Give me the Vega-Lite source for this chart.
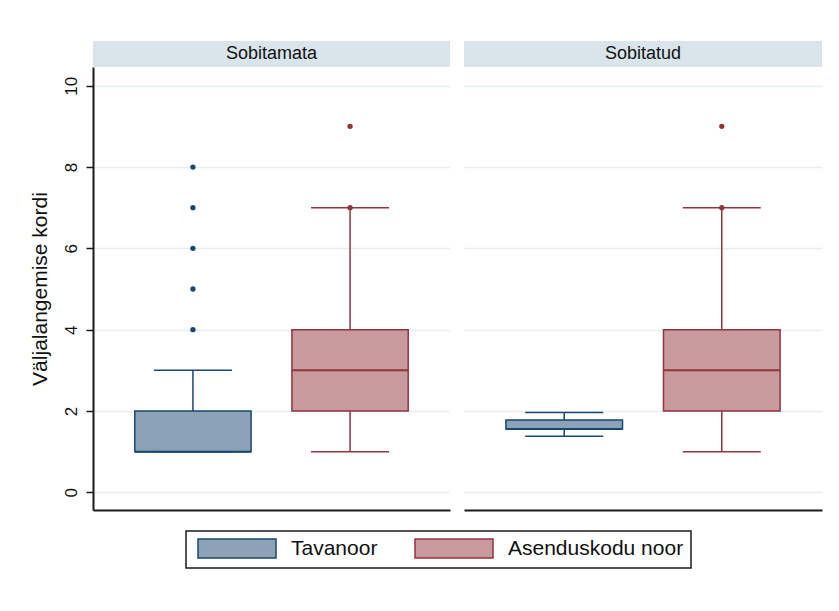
{
  "$schema": "https://vega.github.io/schema/vega-lite/v6.json",
  "background": "white",
  "padding": {"left": 29, "top": 41, "right": 5, "bottom": 5},
  "datasets": {
    "boxes": [
      {"panel": "Sobitamata", "group": "Tavanoor", "lower": 1, "q1": 1, "median": 1, "q3": 2, "upper": 3},
      {"panel": "Sobitamata", "group": "Asenduskodu noor", "lower": 1, "q1": 2, "median": 3, "q3": 4, "upper": 7},
      {"panel": "Sobitatud", "group": "Tavanoor", "lower": 1.38, "q1": 1.56, "median": 1.56, "q3": 1.78, "upper": 1.96},
      {"panel": "Sobitatud", "group": "Asenduskodu noor", "lower": 1, "q1": 2, "median": 3, "q3": 4, "upper": 7}
    ],
    "outliers": [
      {"panel": "Sobitamata", "group": "Tavanoor", "value": 4},
      {"panel": "Sobitamata", "group": "Tavanoor", "value": 5},
      {"panel": "Sobitamata", "group": "Tavanoor", "value": 6},
      {"panel": "Sobitamata", "group": "Tavanoor", "value": 7},
      {"panel": "Sobitamata", "group": "Tavanoor", "value": 8},
      {"panel": "Sobitamata", "group": "Asenduskodu noor", "value": 7},
      {"panel": "Sobitamata", "group": "Asenduskodu noor", "value": 9},
      {"panel": "Sobitatud", "group": "Asenduskodu noor", "value": 7},
      {"panel": "Sobitatud", "group": "Asenduskodu noor", "value": 9}
    ]
  },
  "spacing": 14,
  "hconcat": [
    {
      "spacing": 0,
      "vconcat": [
        {
          "width": 357, "height": 26,
          "view": {"fill": "#d9e4eb", "stroke": null},
          "data": {"values": [{"panel": "Sobitamata"}]},
          "mark": {"type": "text", "fontSize": 18, "color": "#111111"},
          "encoding": {"text": {"field": "panel", "type": "nominal"}}
        },
        {
          "width": 357, "height": 443,
          "view": {"stroke": null},
          "encoding": {
            "x": {"field": "group", "type": "nominal", "sort": ["Tavanoor", "Asenduskodu noor"],
              "scale": {"type": "band", "domain": ["Tavanoor", "Asenduskodu noor"], "paddingInner": 0, "paddingOuter": 0.136},
              "axis": {"labels": false, "ticks": false, "title": null, "domain": true, "domainColor": "#1a1a1a", "domainWidth": 2, "grid": false}},
            "color": {"condition": {"test": "datum.group === 'Tavanoor'", "value": "#1a476f"}, "value": "#90353b"}
          },
          "layer": [
            {
              "data": {"name": "boxes"},
              "transform": [{"filter": "datum.panel === 'Sobitamata'"}],
              "layer": [
                {
                  "mark": {"type": "rule", "strokeWidth": 1.5},
                  "encoding": {
                    "y": {"field": "lower", "type": "quantitative",
                      "scale": {"domain": [-0.435, 10.46], "nice": false, "zero": false},
                      "axis": {"values": [0, 2, 4, 6, 8, 10], "title": "Väljalangemise kordi", "titleFontSize": 21, "titleFontWeight": "normal", "titleColor": "#111111", "titlePadding": 12,
                        "labelAngle": -90, "labelFontSize": 17, "labelColor": "#111111", "labelPadding": 6,
                        "tickSize": 7, "tickColor": "#1a1a1a", "tickWidth": 1.5, "domainColor": "#1a1a1a", "domainWidth": 2,
                        "grid": true, "gridColor": "#e6eef2", "gridWidth": 1.5}},
                    "y2": {"field": "q1"}
                  }
                },
                {
                  "mark": {"type": "rule", "strokeWidth": 1.5},
                  "encoding": {
                    "y": {"field": "q3", "type": "quantitative"},
                    "y2": {"field": "upper"}
                  }
                },
                {
                  "mark": {"type": "tick", "size": 78, "thickness": 1.5, "opacity": 1},
                  "encoding": {"y": {"field": "lower", "type": "quantitative"}}
                },
                {
                  "mark": {"type": "tick", "size": 78, "thickness": 1.5, "opacity": 1},
                  "encoding": {"y": {"field": "upper", "type": "quantitative"}}
                },
                {
                  "mark": {"type": "bar", "width": {"band": 0.74}, "strokeWidth": 1.5, "opacity": 1},
                  "encoding": {
                    "y": {"field": "q1", "type": "quantitative"},
                    "y2": {"field": "q3"},
                    "color": null,
                    "fill": {"field": "group", "type": "nominal", "scale": {"domain": ["Tavanoor", "Asenduskodu noor"], "range": ["#8ca3b7", "#c89a9d"]},
                      "legend": {"title": null, "orient": "none", "legendX": 93, "legendY": 490, "direction": "horizontal"}},
                    "stroke": {"field": "group", "type": "nominal", "scale": {"domain": ["Tavanoor", "Asenduskodu noor"], "range": ["#1a476f", "#90353b"]},
                      "legend": {"title": null, "orient": "none", "legendX": 93, "legendY": 490, "direction": "horizontal"}}
                  }
                },
                {
                  "mark": {"type": "tick", "size": 116, "thickness": 2, "opacity": 1},
                  "encoding": {"y": {"field": "median", "type": "quantitative"}}
                }
              ]
            },
            {
              "data": {"name": "outliers"},
              "transform": [{"filter": "datum.panel === 'Sobitamata'"}],
              "mark": {"type": "point", "filled": true, "size": 28, "opacity": 1},
              "encoding": {"y": {"field": "value", "type": "quantitative"}}
            }
          ]
        }
      ]
    },
    {
      "spacing": 0,
      "vconcat": [
        {
          "width": 358, "height": 26,
          "view": {"fill": "#d9e4eb", "stroke": null},
          "data": {"values": [{"panel": "Sobitatud"}]},
          "mark": {"type": "text", "fontSize": 18, "color": "#111111"},
          "encoding": {"text": {"field": "panel", "type": "nominal"}}
        },
        {
          "width": 358, "height": 443,
          "view": {"stroke": null},
          "encoding": {
            "x": {"field": "group", "type": "nominal", "sort": ["Tavanoor", "Asenduskodu noor"],
              "scale": {"type": "band", "domain": ["Tavanoor", "Asenduskodu noor"], "paddingInner": 0, "paddingOuter": 0.136},
              "axis": {"labels": false, "ticks": false, "title": null, "domain": true, "domainColor": "#1a1a1a", "domainWidth": 2, "grid": false}},
            "color": {"condition": {"test": "datum.group === 'Tavanoor'", "value": "#1a476f"}, "value": "#90353b"}
          },
          "layer": [
            {
              "data": {"name": "boxes"},
              "transform": [{"filter": "datum.panel === 'Sobitatud'"}],
              "layer": [
                {
                  "mark": {"type": "rule", "strokeWidth": 1.5},
                  "encoding": {
                    "y": {"field": "lower", "type": "quantitative",
                      "scale": {"domain": [-0.435, 10.46], "nice": false, "zero": false},
                      "axis": {"values": [0, 2, 4, 6, 8, 10], "title": null, "labels": false, "ticks": false, "domain": false,
                        "grid": true, "gridColor": "#e6eef2", "gridWidth": 1.5}},
                    "y2": {"field": "q1"}
                  }
                },
                {
                  "mark": {"type": "rule", "strokeWidth": 1.5},
                  "encoding": {
                    "y": {"field": "q3", "type": "quantitative"},
                    "y2": {"field": "upper"}
                  }
                },
                {
                  "mark": {"type": "tick", "size": 78, "thickness": 1.5, "opacity": 1},
                  "encoding": {"y": {"field": "lower", "type": "quantitative"}}
                },
                {
                  "mark": {"type": "tick", "size": 78, "thickness": 1.5, "opacity": 1},
                  "encoding": {"y": {"field": "upper", "type": "quantitative"}}
                },
                {
                  "mark": {"type": "bar", "width": {"band": 0.74}, "strokeWidth": 1.5, "opacity": 1},
                  "encoding": {
                    "y": {"field": "q1", "type": "quantitative"},
                    "y2": {"field": "q3"},
                    "color": null,
                    "fill": {"field": "group", "type": "nominal", "legend": {"title": null, "orient": "none", "legendX": 93, "legendY": 490, "direction": "horizontal"}},
                    "stroke": {"field": "group", "type": "nominal", "legend": {"title": null, "orient": "none", "legendX": 93, "legendY": 490, "direction": "horizontal"}}
                  }
                },
                {
                  "mark": {"type": "tick", "size": 116, "thickness": 2, "opacity": 1},
                  "encoding": {"y": {"field": "median", "type": "quantitative"}}
                }
              ]
            },
            {
              "data": {"name": "outliers"},
              "transform": [{"filter": "datum.panel === 'Sobitatud'"}],
              "mark": {"type": "point", "filled": true, "size": 28, "opacity": 1},
              "encoding": {"y": {"field": "value", "type": "quantitative"}}
            }
          ]
        }
      ]
    }
  ],
  "config": {
    "font": "Liberation Sans",
    "legend": {
      "strokeColor": "#1a1a1a", "strokeWidth": 1.5, "padding": 7,
      "symbolType": "M-0.579,-1H7.632V1H-0.579Z", "symbolSize": 361, "symbolStrokeWidth": 1.5, "symbolOpacity": 1,
      "labelFontSize": 21, "labelColor": "#111111", "labelOffset": 77, "columnPadding": 32, "labelLimit": 400
    }
  }
}
